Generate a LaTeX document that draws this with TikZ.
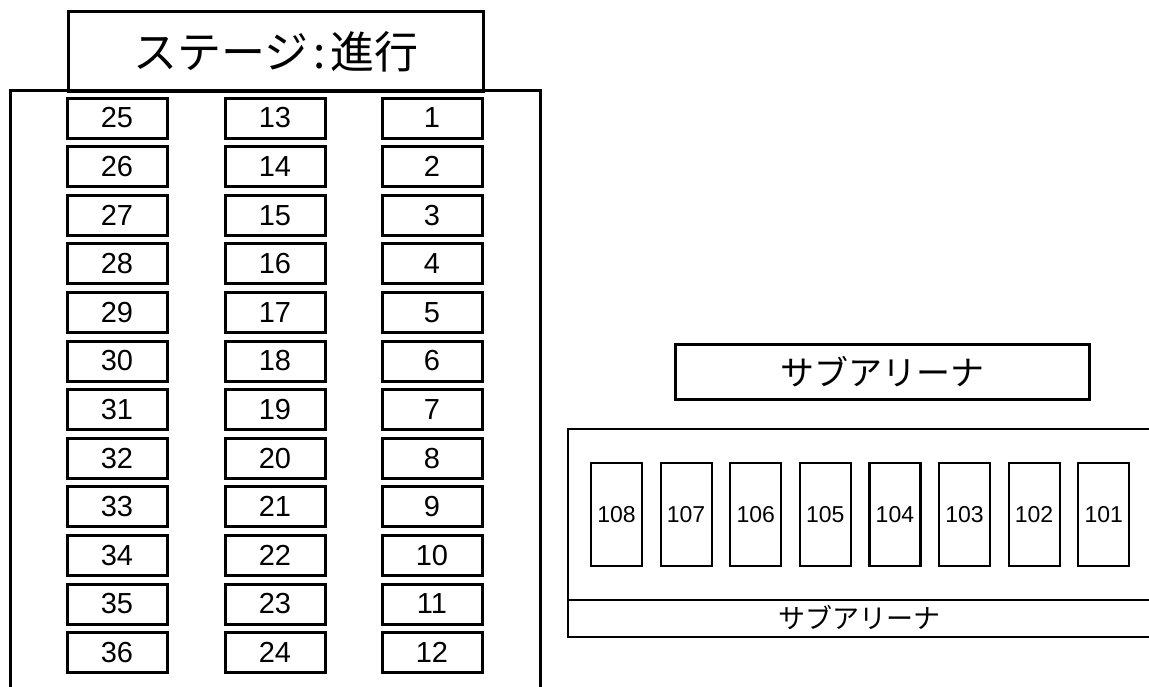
\documentclass[tikz,border=0pt]{standalone}
\usepackage{fontspec}
\setmainfont{Noto Sans CJK JP}
\newfontfamily\jp{Noto Sans CJK JP}
\newfontfamily\num{Liberation Sans}
\tikzset{
  bigline/.style={line width=3pt},
  smallline/.style={line width=2.2pt},
  seat/.style={draw, bigline, minimum width=100pt, minimum height=40pt, inner sep=0pt, font=\num\fontsize{29}{29}\selectfont},
  subseat/.style={draw, smallline, minimum width=51pt, minimum height=103pt, inner sep=0pt, font=\num\fontsize{23}{23}\selectfont},
}
\begin{document}
\begin{tikzpicture}[x=1pt,y=-1pt]
\useasboundingbox (0,0) rectangle (1149,686);
\clip (0,0) rectangle (1149,686);
% stage box
\node[draw, bigline, minimum width=415pt, minimum height=80pt, inner sep=0pt, anchor=north west,
  font=\jp\fontsize{44}{44}\selectfont] (stage) at (67,10) {ステージ\makebox[0.5em]{:}進行};
% outer hall
\draw[bigline] (10,700) -- (10,90) -- (540,90) -- (540,700);
% seats
\foreach \r in {0,...,11}{
  \pgfmathtruncatemacro{\a}{25+\r}
  \pgfmathtruncatemacro{\b}{13+\r}
  \pgfmathtruncatemacro{\c}{1+\r}
  \node[seat] (s\a) at (117,118+48.6*\r) {\a};
  \node[seat] (s\b) at (275,118+48.6*\r) {\b};
  \node[seat] (s\c) at (432,118+48.6*\r) {\c};
}
% sub arena title
\node[draw, bigline, minimum width=414pt, minimum height=55pt, inner sep=0pt, anchor=north west,
  font=\jp\fontsize{34}{34}\selectfont] (subtitle) at (674,343) {サブアリーナ};
% sub arena area
\draw[smallline] (1160,429) -- (568,429) -- (568,637) -- (1160,637);
\draw[smallline] (568,600) -- (1160,600);
\node[font=\jp\fontsize{27}{27}\selectfont] (sublabel) at (859,618) {サブアリーナ};
\foreach \i in {0,...,7}{
  \pgfmathtruncatemacro{\n}{108-\i}
  \node[subseat] (b\n) at (616.5+69.6*\i,514.5) {\n};
}
\end{tikzpicture}
\end{document}
